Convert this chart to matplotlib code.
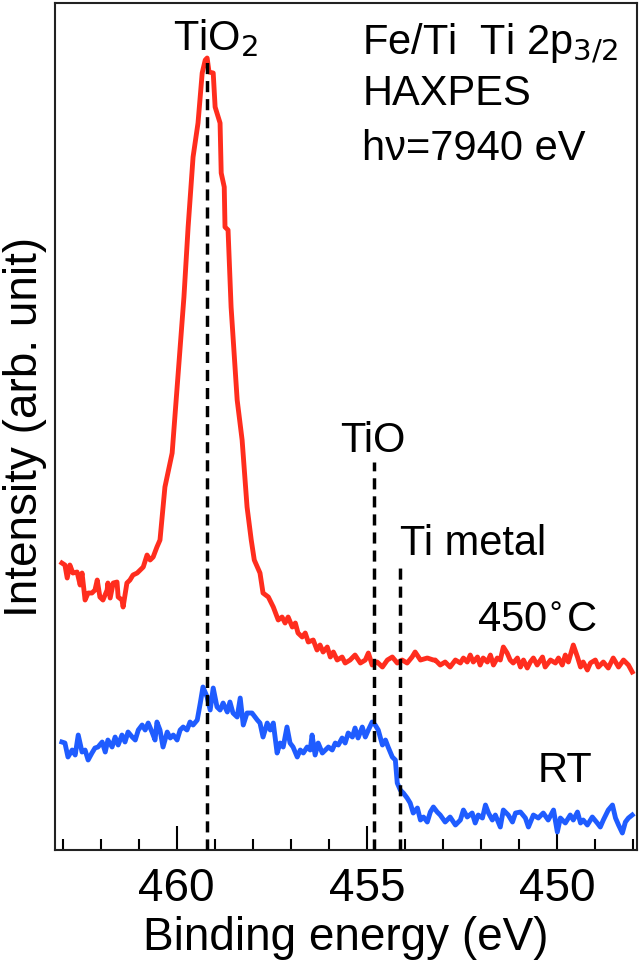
import numpy as np
import matplotlib
matplotlib.use('Agg')
import matplotlib.pyplot as plt

plt.rcParams['font.family'] = ['Liberation Sans', 'DejaVu Sans']

# 450 C annealed sample (red)
e_450 = [463.02, 462.94, 462.88, 462.81, 462.73, 462.62, 462.54, 462.49, 462.41, 462.33,
         462.23, 462.15, 462.09, 462.02, 461.94, 461.83, 461.81, 461.75, 461.67, 461.57,
         461.54, 461.44, 461.41, 461.31, 461.23, 461.15, 461.04, 460.96, 460.88, 460.78,
         460.70, 460.62, 460.52, 460.44, 460.31, 460.12, 459.96, 459.81, 459.70, 459.57,
         459.44, 459.33, 459.25, 459.20, 459.15, 459.04, 458.99, 458.86, 458.83, 458.75,
         458.73, 458.65, 458.57, 458.41, 458.28, 458.15, 458.04, 457.96, 457.81, 457.73,
         457.59, 457.46, 457.33, 457.23, 457.15, 457.07, 456.96, 456.88, 456.81, 456.70,
         456.62, 456.54, 456.41, 456.31, 456.23, 456.15, 456.04, 455.96, 455.88, 455.78,
         455.65, 455.57, 455.44, 455.31, 455.17, 455.04, 454.96, 454.86, 454.73, 454.59,
         454.46, 454.33, 454.20, 454.07, 453.94, 453.81, 453.73, 453.59, 453.41, 453.25,
         453.20, 453.07, 452.94, 452.81, 452.67, 452.54, 452.46, 452.36, 452.28, 452.20,
         452.09, 452.02, 451.94, 451.83, 451.75, 451.67, 451.57, 451.49, 451.41, 451.31,
         451.23, 451.15, 451.04, 450.96, 450.88, 450.78, 450.70, 450.62, 450.52, 450.38,
         450.31, 450.17, 450.04, 449.96, 449.86, 449.78, 449.70, 449.57, 449.46, 449.38,
         449.31, 449.20, 449.12, 448.99, 448.91, 448.78, 448.65, 448.52, 448.38, 448.25,
         448.12, 448.02]
i_450 = [287, 285, 272, 285, 277, 278, 265, 277, 250, 257,
         257, 260, 270, 253, 250, 260, 267, 252, 267, 268,
         253, 250, 243, 267, 270, 275, 277, 280, 283, 295,
         290, 293, 303, 310, 363, 397, 477, 553, 623, 693,
         727, 777, 790, 792, 778, 777, 743, 727, 677, 663,
         623, 620, 543, 450, 410, 343, 310, 290, 277, 257,
         253, 243, 230, 233, 227, 233, 223, 227, 217, 213,
         217, 208, 210, 200, 205, 198, 203, 193, 198, 190,
         193, 187, 190, 195, 187, 190, 197, 185, 188, 183,
         190, 193, 187, 190, 187, 193, 198, 190, 192, 190,
         190, 185, 188, 183, 190, 187, 192, 188, 195, 188,
         193, 185, 192, 188, 195, 185, 192, 190, 203, 197,
         190, 187, 192, 183, 190, 182, 188, 192, 185, 193,
         183, 190, 187, 192, 185, 195, 188, 205, 193, 183,
         188, 180, 187, 190, 183, 188, 182, 192, 183, 190,
         185, 178]

# as-deposited sample, room temperature (blue)
e_rt = [463.02, 462.94, 462.86, 462.75, 462.67, 462.59, 462.49, 462.41, 462.33, 462.23,
        462.15, 462.07, 461.96, 461.88, 461.81, 461.70, 461.62, 461.54, 461.44, 461.36,
        461.28, 461.17, 461.09, 461.01, 460.91, 460.83, 460.75, 460.65, 460.57, 460.52,
        460.44, 460.36, 460.25, 460.17, 460.09, 459.99, 459.91, 459.83, 459.73, 459.65,
        459.57, 459.46, 459.38, 459.31, 459.20, 459.12, 459.04, 458.94, 458.86, 458.78,
        458.67, 458.60, 458.52, 458.41, 458.33, 458.25, 458.15, 458.02, 457.88, 457.81,
        457.73, 457.62, 457.54, 457.46, 457.36, 457.28, 457.20, 457.10, 457.02, 456.94,
        456.83, 456.75, 456.67, 456.57, 456.49, 456.44, 456.36, 456.28, 456.17, 456.09,
        456.01, 455.91, 455.83, 455.75, 455.65, 455.57, 455.49, 455.38, 455.31, 455.23,
        455.12, 455.04, 454.96, 454.86, 454.78, 454.70, 454.59, 454.51, 454.44, 454.33,
        454.25, 454.20, 454.12, 454.04, 453.94, 453.86, 453.78, 453.67, 453.59, 453.51,
        453.41, 453.33, 453.25, 453.15, 453.07, 452.94, 452.81, 452.67, 452.54, 452.46,
        452.36, 452.23, 452.15, 452.07, 451.96, 451.88, 451.80, 451.70, 451.62, 451.49,
        451.41, 451.28, 451.17, 451.09, 450.96, 450.83, 450.75, 450.62, 450.49, 450.36,
        450.23, 450.09, 449.99, 449.91, 449.78, 449.65, 449.57, 449.46, 449.38, 449.31,
        449.20, 449.07, 448.94, 448.86, 448.78, 448.65, 448.54, 448.46, 448.38, 448.28,
        448.20, 448.12, 448.02]
i_rt = [108, 107, 93, 100, 95, 115, 98, 100, 90, 97,
        102, 103, 108, 98, 110, 103, 113, 105, 115, 108,
        118, 113, 110, 120, 125, 120, 127, 118, 110, 128,
        120, 103, 118, 112, 115, 110, 120, 123, 120, 128,
        125, 130, 147, 163, 153, 140, 162, 143, 140, 147,
        138, 148, 137, 133, 152, 125, 137, 137, 130, 127,
        113, 127, 120, 127, 97, 107, 103, 123, 107, 103,
        93, 100, 97, 103, 100, 115, 95, 107, 97, 100,
        103, 100, 107, 105, 112, 107, 117, 113, 122, 112,
        123, 113, 120, 128, 125, 120, 105, 110, 103, 93,
        90, 67, 60, 57, 52, 47, 37, 42, 30, 33,
        28, 38, 43, 38, 35, 28, 33, 25, 30, 40,
        33, 37, 27, 35, 32, 45, 37, 30, 35, 23,
        40, 35, 28, 37, 38, 32, 23, 35, 32, 37,
        30, 40, 18, 32, 27, 35, 30, 38, 27, 30,
        25, 33, 27, 23, 30, 40, 45, 32, 25, 17,
        28, 32, 35]

# reference peak positions (eV) and top of each dashed marker
ref_names = ['TiO2', 'TiO', 'Ti metal']
ref_pos = [459.2, 454.8, 454.12]
ref_top = [793, 388, 283]

fig = plt.figure(figsize=(6.4, 9.73), dpi=100)
ax = fig.add_axes([0.086, 0.1264, 0.909, 0.8705])

for x, top in zip(ref_pos, ref_top):
    ax.plot([x, x], [0, top], color='black', lw=2.5, ls=(0, (3.2, 2.0)), zorder=3)

ax.plot(e_450, i_450, color='#ff2d1e', lw=3.5, zorder=2)
ax.plot(e_rt, i_rt, color='#1f5cff', lw=3.5, zorder=2)

ax.set_xlim(463.2, 447.9)
ax.set_ylim(0, 847)
ax.set_xticks([460, 455, 450])
ax.set_xticks(np.arange(448, 464, 1), minor=True)
ax.set_yticks([])
ax.tick_params(axis='x', which='major', direction='in', length=17, width=1.5,
               labelsize=33, pad=12, top=False)
ax.tick_params(axis='x', which='minor', direction='in', length=8, width=1.5, top=False)
for s in ax.spines.values():
    s.set_linewidth(1.5)
    s.set_color('#222222')

ax.set_xlabel('Binding energy (eV)', fontsize=33, labelpad=4)
ax.set_ylabel('Intensity (arb. unit)', fontsize=33, labelpad=6)

fs = 30
ax.text(460.09, 800, 'TiO$_2$', fontsize=fs, ha='left', va='baseline')
ax.text(455.70, 398, 'TiO', fontsize=fs, ha='left', va='baseline')
ax.text(454.12, 295, 'Ti metal', fontsize=fs, ha='left', va='baseline')
ax.text(452.09, 218, '450$^{\\circ}$C', fontsize=fs, ha='left', va='baseline')
ax.text(449.07, 68, 'RT', fontsize=fs, ha='right', va='baseline')
ax.text(455.12, 795, 'Fe/Ti  Ti 2p$_{3/2}$', fontsize=fs, ha='left', va='baseline')
ax.text(455.12, 745, 'HAXPES', fontsize=fs, ha='left', va='baseline')
ax.text(455.12, 690, 'h\u03bd=7940 eV', fontsize=fs, ha='left', va='baseline')

fig.savefig('out.png', dpi=100)
